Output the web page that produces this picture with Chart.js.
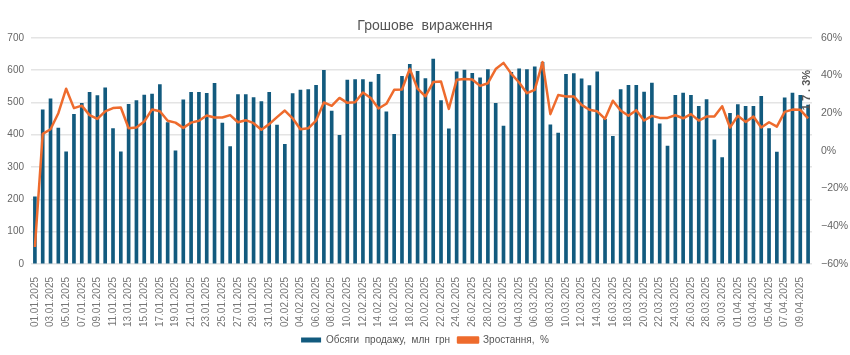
<!DOCTYPE html>
<html><head><meta charset="utf-8">
<script src="https://cdn.jsdelivr.net/npm/chart.js@4"></script>
<style>html,body{margin:0;padding:0;background:#fff}#wrap{width:850px;height:355px;position:relative}</style>
</head><body><div id="wrap"><canvas id="c"></canvas></div>
<script>
const dates = [
"01.01.2025","02.01.2025","03.01.2025","04.01.2025","05.01.2025","06.01.2025","07.01.2025","08.01.2025","09.01.2025","10.01.2025",
"11.01.2025","12.01.2025","13.01.2025","14.01.2025","15.01.2025","16.01.2025","17.01.2025","18.01.2025","19.01.2025","20.01.2025",
"21.01.2025","22.01.2025","23.01.2025","24.01.2025","25.01.2025","26.01.2025","27.01.2025","28.01.2025","29.01.2025","30.01.2025",
"31.01.2025","01.02.2025","02.02.2025","03.02.2025","04.02.2025","05.02.2025","06.02.2025","07.02.2025","08.02.2025","09.02.2025",
"10.02.2025","11.02.2025","12.02.2025","13.02.2025","14.02.2025","15.02.2025","16.02.2025","17.02.2025","18.02.2025","19.02.2025",
"20.02.2025","21.02.2025","22.02.2025","23.02.2025","24.02.2025","25.02.2025","26.02.2025","27.02.2025","28.02.2025","01.03.2025",
"02.03.2025","03.03.2025","04.03.2025","05.03.2025","06.03.2025","07.03.2025","08.03.2025","09.03.2025","10.03.2025","11.03.2025",
"12.03.2025","13.03.2025","14.03.2025","15.03.2025","16.03.2025","17.03.2025","18.03.2025","19.03.2025","20.03.2025","21.03.2025",
"22.03.2025","23.03.2025","24.03.2025","25.03.2025","26.03.2025","27.03.2025","28.03.2025","29.03.2025","30.03.2025","31.03.2025",
"01.04.2025","02.04.2025","03.04.2025","04.04.2025","05.04.2025","06.04.2025","07.04.2025","08.04.2025","09.04.2025","10.04.2025"
];
const salesVolume = [
208,477,511,421,347,463,497,531,521,545,
419,347,494,506,523,526,555,438,350,508,
531,531,528,559,436,363,524,524,515,503,
531,430,370,527,538,540,553,599,473,398,
569,571,571,563,587,471,401,581,618,596,
574,634,506,418,595,600,590,576,602,497,
427,593,604,602,610,624,431,405,587,589,
573,552,595,448,395,540,553,553,532,560,
434,365,522,529,522,488,509,384,329,466,
493,488,488,519,419,346,514,529,522,492
];
const growthPct = [
-51,9,11.5,20,33,22.7,24,19,17,21,
22.7,23,12,12.4,15.6,22,21,16,15,12.2,
15,16,18.8,17.7,17.7,19,15.2,16.3,14.7,11.2,
14.2,17.9,21.4,17.3,11.5,12,16.1,25.7,23.9,28.1,
25.5,25.8,31,28.1,22.5,25,32.4,32.6,43.5,33,
28.9,36.5,36.8,22.3,37.7,38.2,37.9,34.5,35.9,43.4,
46.7,40.9,36.3,30.6,32.4,47.1,19.5,29.6,28.9,28.9,
24.4,21.8,21,17,26.6,21.4,18.6,21.6,16.1,18.6,
17.5,17.5,18.9,17.3,19.5,16.1,18.2,18.2,23.7,12.4,
18.6,15.4,18.2,12.4,15.2,12.9,20.7,21.9,21.8,17.3
];
const seriesNames = ["Обсяги  продажу,  млн  грн", "Зростання,  %"];
const titleText = "Грошове  вираження";
const leftTicks = [0,100,200,300,400,500,600,700];
const rightTicks = [-60,-40,-20,0,20,40,60];

const BAR = "#125a7e", LINE = "#ee6b2d";
const FONT = "'Liberation Sans', Arial, sans-serif";

const lastLabel = {
  id: 'lastLabel',
  afterDatasetsDraw(chart) {
    const meta = chart.getDatasetMeta(1);
    const pt = meta.data[meta.data.length - 1];
    const v = growthPct[growthPct.length - 1];
    const ctx = chart.ctx;
    ctx.save();
    ctx.translate(pt.x - 1, pt.y - 8);
    ctx.rotate(-Math.PI / 2);
    ctx.font = "bold 11px " + FONT;
    ctx.fillStyle = "#555";
    ctx.textAlign = "left";
    ctx.textBaseline = "middle";
    ctx.fillText(v.toFixed(1).replace('.', ' . ').replace(/(\d)(?=\d)/g,'$1 ') + '%', 0, 0);
    ctx.restore();
  }
};

new Chart(document.getElementById('c'), {
  data: {
    labels: dates,
    datasets: [
      { type: 'bar', label: seriesNames[0], data: salesVolume, yAxisID: 'y',
        backgroundColor: BAR, borderWidth: 0, barThickness: 3, order: 1 },
      { type: 'line', label: seriesNames[1], data: growthPct, yAxisID: 'y1',
        borderColor: LINE, backgroundColor: LINE, borderWidth: 2.5, pointRadius: 0,
        tension: 0, borderJoinStyle: 'round', order: 0 }
    ]
  },
  options: {
    responsive: true, maintainAspectRatio: false, animation: false,
    layout: { padding: { left: 0, right: 0, top: 0, bottom: 0 } },
    plugins: {
      title: { display: true, text: titleText, color: '#555',
        font: { family: FONT, size: 14, weight: 'normal' }, padding: { top: 18, bottom: 3 } },
      legend: { position: 'bottom',
        labels: { color: '#555', font: { family: FONT, size: 10 }, boxWidth: 20, boxHeight: 5,
          padding: 8, sort: (a, b) => a.datasetIndex - b.datasetIndex } },
      tooltip: { enabled: false }
    },
    scales: {
      x: {
        grid: { display: false }, border: { display: false },
        afterFit: s => { s.height = 63; },
        ticks: { autoSkip: false, maxRotation: 90, minRotation: 90, color: '#777', padding: 5,
          font: { family: FONT, size: 10 },
          callback: function(v, i) { return i % 2 === 0 ? dates[i] : null; } }
      },
      y: {
        position: 'left', min: 0, max: 700,
        afterFit: s => { s.width = 31; },
        afterBuildTicks: s => { s.ticks = leftTicks.map(v => ({ value: v })); },
        grid: { color: '#e4e4e4', lineWidth: 1.5, drawTicks: false }, border: { display: false },
        ticks: { color: '#666', padding: 7, font: { family: FONT, size: 10 } }
      },
      y1: {
        position: 'right', min: -60, max: 60,
        afterFit: s => { s.width = 38; },
        afterBuildTicks: s => { s.ticks = rightTicks.map(v => ({ value: v })); },
        grid: { drawOnChartArea: false, drawTicks: false }, border: { display: false },
        ticks: { color: '#666', padding: 9, font: { family: FONT, size: 10.5 },
          callback: v => (v < 0 ? '−' : '') + Math.abs(v) + '%' }
      }
    }
  },
  plugins: [lastLabel]
});
</script>
</body></html>
